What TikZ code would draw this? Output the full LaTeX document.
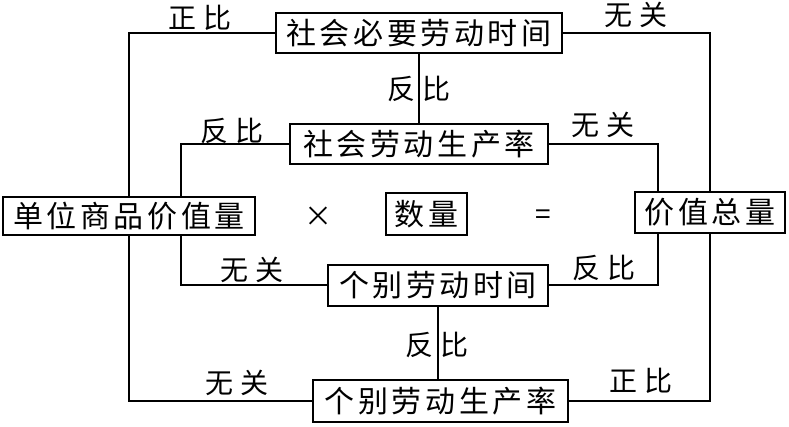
\documentclass[tikz,border=0pt]{standalone}
\usepackage{fontspec}
\usepackage{tikz}
\usetikzlibrary{positioning, calc}
\newfontfamily\boxfont[LetterSpace=12]{Noto Sans CJK SC}
\newfontfamily\lblfont{Noto Sans CJK SC}
\newcommand{\pair}[2]{#1\hspace{8pt}#2}

\tikzset{
    term/.style={draw, line width=2pt, inner sep=0pt, minimum height=40pt,
        font=\boxfont\fontsize{30}{30}\selectfont},
    rel/.style={inner sep=0pt, font=\lblfont\fontsize{28}{28}\selectfont},
    sign/.style={inner sep=0pt, font=\lblfont\fontsize{28}{28}\selectfont},
    link/.style={line width=2pt}
}

\begin{document}
\begin{tikzpicture}[x=1pt, y=-1pt]
    \useasboundingbox (0,0) rectangle (789,427);

    % boxes
    \node[term, minimum width=286pt] (snt) at (419,33) {社会必要劳动时间};
    \node[term, minimum width=258pt] (slv) at (419,144) {社会劳动生产率};
    \node[term, minimum width=252pt, minimum height=38pt] (dw) at (129,216) {单位商品价值量};
    \node[term, minimum width=81pt, minimum height=42pt] (sl) at (426.5,214) {数量};
    \node[term, minimum width=150pt, minimum height=41pt] (zl) at (710,212.5) {价值总量};
    \node[term, minimum width=220pt, minimum height=41pt] (gt) at (438,285.5) {个别劳动时间};
    \node[term, minimum width=255pt, minimum height=42pt] (gs) at (440.5,401) {个别劳动生产率};

    \node[sign] (times) at (318,217) {×};
    \node[sign] (eq) at (543,217) {=};

    % connectors
    \draw[link] (snt.west) -| (dw.north);
    \draw[link] (snt.east) -| (zl.north);
    \draw[link] (snt) -- (slv);
    \draw[link] (slv.west) -| ([xshift=52pt]dw.north);
    \draw[link] (slv.east) -| ([xshift=-52pt]zl.north);
    \draw[link] ([xshift=52pt]dw.south) |- (gt.west);
    \draw[link] (gt.east) -| ([xshift=-52pt]zl.south);
    \draw[link] (gt) -- (gt |- gs.north);
    \draw[link] (dw.south) |- (gs.west);
    \draw[link] (gs.east) -| (zl.south);

    % relations
    \node[rel] (r1) at (200,18) {\pair{正}{比}};
    \node[rel] (r2) at (636,15) {\pair{无}{关}};
    \node[rel] (r3) at (419,89) {\pair{反}{比}};
    \node[rel] (r4) at (232,131) {\pair{反}{比}};
    \node[rel] (r5) at (603,125) {\pair{无}{关}};
    \node[rel] (r6) at (252,270) {\pair{无}{关}};
    \node[rel] (r7) at (604,268) {\pair{反}{比}};
    \node[rel] (r8) at (437,345) {\pair{反}{比}};
    \node[rel] (r9) at (237,383) {\pair{无}{关}};
    \node[rel] (r10) at (641,381) {\pair{正}{比}};
\end{tikzpicture}
\end{document}
